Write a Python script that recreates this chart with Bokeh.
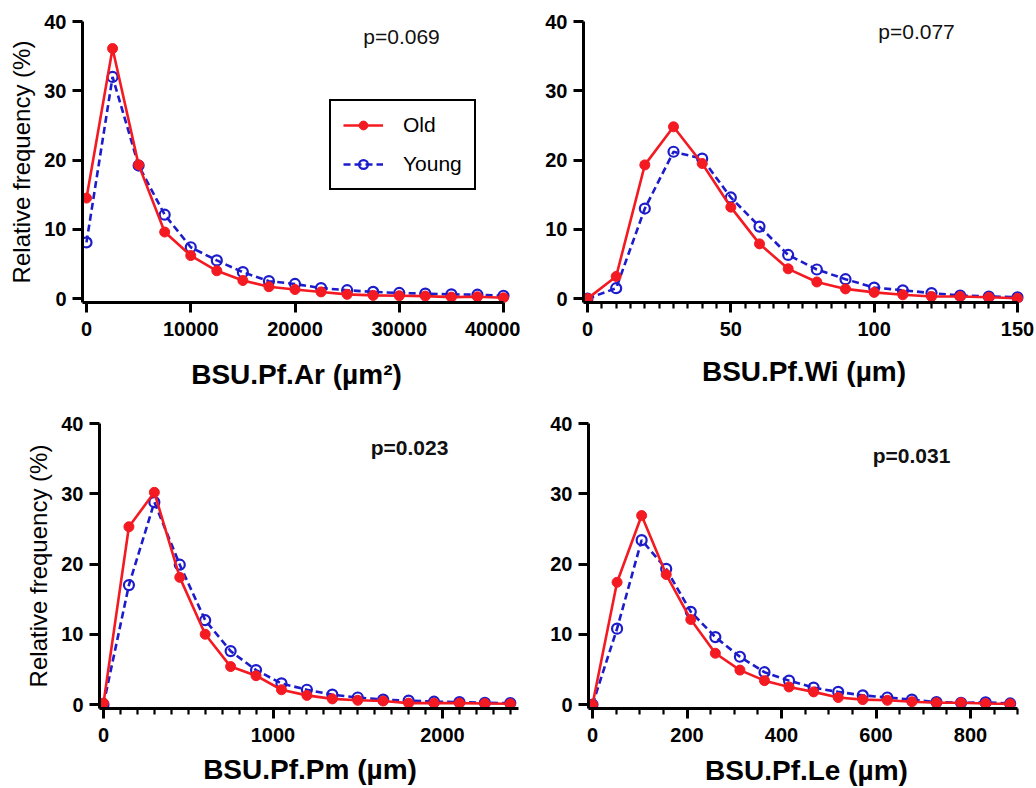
import math
from bokeh.plotting import figure
from bokeh.layouts import column, row
from bokeh.models import (FixedTicker, NumeralTickFormatter, Legend, LegendItem,
                          Label, Range1d)
from bokeh.embed import file_html
from bokeh.resources import INLINE

# ---------------- data ----------------
ar_x = [0, 2500, 5000, 7500, 10000, 12500, 15000, 17500, 20000, 22500, 25000,
        27500, 30000, 32500, 35000, 37500, 40000]
ar_old = [14.5, 36.1, 19.3, 9.6, 6.2, 4.0, 2.6, 1.7, 1.3, 0.95, 0.6, 0.45, 0.4,
          0.35, 0.2, 0.25, 0.1]
ar_young = [8.1, 32.0, 19.2, 12.1, 7.4, 5.5, 3.8, 2.5, 2.1, 1.5, 1.2, 0.95, 0.8,
            0.7, 0.6, 0.55, 0.4]

wi_x = [0, 10, 20, 30, 40, 50, 60, 70, 80, 90, 100, 110, 120, 130, 140, 150]
wi_old = [0, 3.2, 19.3, 24.8, 19.5, 13.2, 7.9, 4.3, 2.4, 1.4, 0.9, 0.55, 0.3,
          0.3, 0.2, 0.05]
wi_young = [0, 1.5, 13.0, 21.2, 20.2, 14.6, 10.4, 6.3, 4.2, 2.8, 1.6, 1.2, 0.8,
            0.45, 0.3, 0.2]

pm_x = [0, 150, 300, 450, 600, 750, 900, 1050, 1200, 1350, 1500, 1650, 1800,
        1950, 2100, 2250, 2400]
pm_old = [0.2, 25.3, 30.2, 18.1, 10.0, 5.4, 4.1, 2.1, 1.3, 0.8, 0.6, 0.5, 0.2,
          0.2, 0.2, 0.15, 0.1]
pm_young = [0, 17.0, 28.8, 19.9, 12.0, 7.6, 4.9, 3.0, 2.1, 1.4, 1.0, 0.7, 0.55,
            0.4, 0.35, 0.25, 0.2]

le_x = [0, 52, 104, 156, 208, 260, 312, 364, 416, 468, 520, 572, 624, 676, 728,
        780, 832, 884]
le_old = [0, 17.4, 26.9, 18.5, 12.1, 7.3, 4.9, 3.4, 2.5, 1.8, 1.0, 0.7, 0.6, 0.4,
          0.25, 0.25, 0.15, 0.1]
le_young = [0, 10.8, 23.4, 19.3, 13.2, 9.6, 6.8, 4.6, 3.4, 2.4, 1.8, 1.3, 1.0,
            0.7, 0.35, 0.25, 0.3, 0.15]

y_ticks = [0, 10, 20, 30, 40]

ar_ticks = [0, 10000, 20000, 30000, 40000]
wi_ticks = [0, 50, 100, 150]
wi_minor = list(range(0, 155, 5))
pm_ticks = [0, 1000, 2000]
pm_minor = list(range(0, 2500, 100))
le_ticks = [0, 200, 400, 600, 800]
le_minor = list(range(0, 950, 50))

labels_series = ["Old", "Young"]
p_values = ["p=0.069", "p=0.077", "p=0.023", "p=0.031"]
x_titles = ["BSU.Pf.Ar (µm²)", "BSU.Pf.Wi (µm)", "BSU.Pf.Pm (µm)", "BSU.Pf.Le (µm)"]
y_title = "Relative frequency (%)"

RED = "#F41A22"
BLUE = "#1C1CCB"
FONT = "Liberation Sans"
PAD = 4  # px between axis line and data zero


def make_panel(xs, old, young, axis_end, ticks, minor, p_text, p_bold, x_title,
               show_ytitle, geom, xt_standoff, with_legend=False):
    # geom in page pixels
    (fig_left, fig_right, fig_top, fig_bottom,
     ax_x, ax_y, xm_px, xm_val, y40_px, fr_right, pt) = geom
    x0_px = ax_x + PAD
    y0_px = ax_y - PAD
    kx = (xm_px - x0_px) / xm_val
    ky = (y0_px - y40_px) / 40.0
    x_start = -PAD / kx
    x_end = (fr_right - x0_px) / kx
    y_start = -PAD / ky
    y_end = 40.0

    p = figure(width=fig_right - fig_left, height=fig_bottom - fig_top,
               min_border_left=ax_x - fig_left,
               min_border_right=fig_right - fr_right,
               min_border_top=y40_px - fig_top,
               min_border_bottom=fig_bottom - ax_y,
               x_range=Range1d(x_start, x_end), y_range=Range1d(y_start, y_end),
               output_backend="svg", toolbar_location=None, tools="")
    p.outline_line_color = None
    p.grid.visible = False
    p.background_fill_color = "white"
    p.border_fill_color = "white"

    for ax in (p.xaxis[0], p.yaxis[0]):
        ax.axis_line_width = 3
        ax.axis_line_color = "black"
        ax.major_tick_line_width = 3
        ax.major_tick_line_color = "black"
        ax.major_tick_out = 10
        ax.major_tick_in = 0
        ax.minor_tick_out = 6
        ax.minor_tick_in = 0
        ax.minor_tick_line_width = 2.2
        ax.minor_tick_line_color = "black"
        ax.major_label_text_font = FONT
        ax.major_label_text_font_style = "bold"
        ax.major_label_text_font_size = "20px"
        ax.major_label_text_color = "black"
        ax.formatter = NumeralTickFormatter(format="0")

    p.xaxis.bounds = (x_start, axis_end)
    p.yaxis.bounds = (y_start, 40)
    p.xaxis.ticker = FixedTicker(ticks=ticks, minor_ticks=minor)
    p.yaxis.ticker = FixedTicker(ticks=y_ticks, minor_ticks=[])
    p.xaxis.major_label_standoff = 9
    p.yaxis.major_label_standoff = 6

    p.xaxis.axis_label = x_title
    p.xaxis.axis_label_text_font = FONT
    p.xaxis.axis_label_text_font_style = "bold"
    p.xaxis.axis_label_text_font_size = "28px"
    p.xaxis.axis_label_text_color = "black"
    p.xaxis.axis_label_standoff = xt_standoff
    if show_ytitle:
        p.yaxis.axis_label = y_title
        p.yaxis.axis_label_text_font = FONT
        p.yaxis.axis_label_text_font_style = "normal"
        p.yaxis.axis_label_text_font_size = "24px"
        p.yaxis.axis_label_text_color = "black"
        p.yaxis.axis_label_standoff = 6

    yl = p.line(xs, young, line_color=BLUE, line_width=2.6, line_dash="7 4")
    ys = p.scatter(xs, young, size=10, marker="circle", line_color=BLUE,
                   line_width=2.2, fill_color=None)
    ol = p.line(xs, old, line_color=RED, line_width=2.6)
    os_ = p.scatter(xs, old, size=10, marker="circle", line_color=RED,
                    fill_color=RED)

    # p-value text, screen px relative to frame bottom-left
    p.add_layout(Label(x=pt[0] - ax_x, y=ax_y - pt[1], x_units="screen",
                       y_units="screen", text=p_text, text_font=FONT,
                       text_font_style="bold" if p_bold else "normal",
                       text_font_size="21px", text_align="center",
                       text_baseline="middle", text_color="#111111"))
    if with_legend:
        leg = Legend(items=[LegendItem(label=labels_series[0], renderers=[ol, os_]),
                            LegendItem(label=labels_series[1], renderers=[yl, ys])],
                     location=(329 - ax_x, ax_y - 190))
        leg.border_line_color = "black"
        leg.border_line_alpha = 1.0
        leg.border_line_width = 2
        leg.background_fill_color = "white"
        leg.background_fill_alpha = 1
        leg.label_text_font = FONT
        leg.label_text_font_size = "21px"
        leg.label_text_color = "black"
        leg.glyph_width = 40
        leg.glyph_height = 22
        leg.label_height = 22
        leg.label_standoff = 20
        leg.spacing = 15
        leg.padding = 12
        leg.margin = 0
        p.add_layout(leg, "center")
    return p


# geom: fig_left, fig_right, fig_top, fig_bottom, axis_x, axis_y,
#       x_tick_px, x_tick_val, y40_px, frame_right, p_text_center
p1 = make_panel(ar_x, ar_old, ar_young, 40000, ar_ticks, [], p_values[0], False,
                x_titles[0], True,
                (0, 520, 0, 400, 82, 302, 503, 40000, 21, 510, (401, 36)),
                20, with_legend=True)
p2 = make_panel(wi_x, wi_old, wi_young, 150, wi_ticks, wi_minor, p_values[1], False,
                x_titles[1], False,
                (520, 1036, 0, 400, 583, 306, 1017, 150, 17, 1024, (916, 35)),
                17)
p3 = make_panel(pm_x, pm_old, pm_young, 2450, pm_ticks, pm_minor, p_values[2], True,
                x_titles[2], True,
                (0, 520, 400, 788, 99, 709, 442, 2000, 423, 520, (409, 448)),
                9)
p4 = make_panel(le_x, le_old, le_young, 900, le_ticks, le_minor, p_values[3], True,
                x_titles[3], False,
                (520, 1036, 400, 788, 588, 708, 970, 800, 421, 1024, (911, 455)),
                10)

layout = column(row(p1, p2, spacing=0), row(p3, p4, spacing=0), spacing=0)
open("out.html", "w").write(file_html(layout, INLINE))
